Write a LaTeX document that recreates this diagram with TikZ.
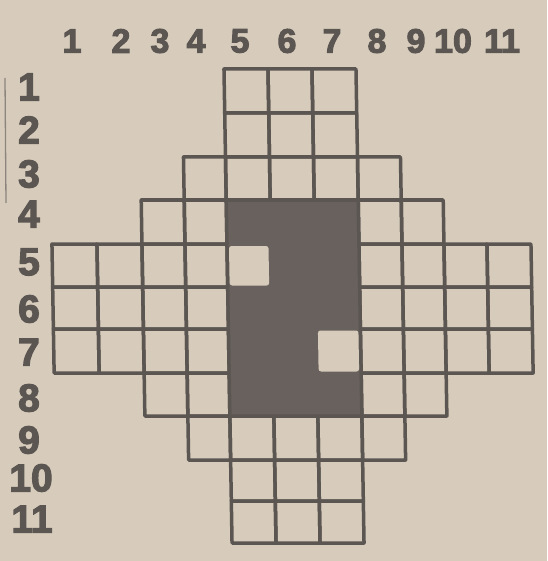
\documentclass[tikz,border=0pt]{standalone}
\usepackage{fontspec}
\setmainfont{Liberation Sans}
\newfontfamily\labelfont{Liberation Sans Bold}[FakeBold=3]
\definecolor{paper}{RGB}{215,204,187}
\definecolor{ink}{RGB}{92,86,83}
\definecolor{darkfill}{RGB}{104,97,94}
\def\XL{53,98,143,186,228,272,316,360,403,445,488,532}
\def\YL{69,113,157,200,244,287,329,373,416,460,501,543}
\newcommand\cellbox[2]{%
  \pgfmathsetmacro\xa{{\XL}[#1-1]}\pgfmathsetmacro\xb{{\XL}[#1]}%
  \pgfmathsetmacro\ya{{\YL}[#2-1]}\pgfmathsetmacro\yb{{\YL}[#2]}%
  \draw[gridline] (\xa,\ya) rectangle (\xb,\yb);}
\newcommand\gridrow[3]{\foreach \cc in {#2,...,#3}{\cellbox{\cc}{#1}}}
\begin{document}
\begin{tikzpicture}[x=1pt,y=-1pt,
  gridline/.style={draw=ink, line width=3.5pt, line join=round},
  collbl/.style={text=ink, font=\fontsize{34}{34}\labelfont, inner sep=0pt, anchor=center},
  rowlbl/.style={text=ink, font=\fontsize{39}{39}\labelfont, inner sep=0pt, anchor=center}]
\fill[paper] (0,0) rectangle (547,561);
\useasboundingbox (0,0) rectangle (547,561);
% column numbers
\foreach \t/\x in {1/72,2/121,3/160,4/196,5/240,6/287,7/332,8/377,9/416,10/453,11/502}
  \node[collbl] (col\t) at (\x,41) {\t};
% row numbers
\foreach \t/\x/\y in {1/29/87,2/29/130,3/29/174,4/29/214,5/29/262,6/29/309,7/29/352,8/29/398,9/29/440,10/31/478,11/32/519}
  \node[rowlbl] (row\t) at (\x,\y) {\t};
% thin margin line
\coordinate (m1) at (5,78);
\coordinate (m2) at (6,203);
\draw[ink!60!paper, line width=1.3pt] (m1) -- (m2);
\begin{scope}[xslant=-0.017, shift={(-5.2,0)}]
  \gridrow{1}{5}{7}
  \gridrow{2}{5}{7}
  \gridrow{3}{4}{8}
  \gridrow{4}{3}{4}\gridrow{4}{8}{9}
  \gridrow{5}{1}{4}\gridrow{5}{8}{11}
  \gridrow{6}{1}{4}\gridrow{6}{8}{11}
  \gridrow{7}{1}{4}\gridrow{7}{8}{11}
  \gridrow{8}{3}{4}\gridrow{8}{8}{9}
  \gridrow{9}{4}{8}
  \gridrow{10}{5}{7}
  \gridrow{11}{5}{7}
  \fill[darkfill] (228,200) rectangle (360,416);
  \draw[gridline] (228,200) rectangle (360,416);
  \fill[paper, rounded corners=2.5pt] (230,246) rectangle (269.5,285.5);
  \fill[paper, rounded corners=2.5pt] (317.5,330.5) rectangle (358,371.5);
\end{scope}
\end{tikzpicture}
\end{document}
